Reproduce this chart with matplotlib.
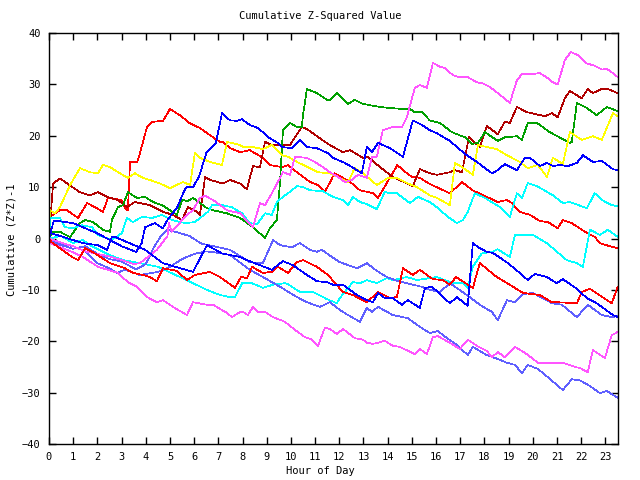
import matplotlib
matplotlib.use("Agg")
import matplotlib.pyplot as plt

# each series: hours, values
red_top_h = [0, 0.04, 0.45, 0.74, 1.2, 1.57, 1.9, 2.23, 2.44, 3.0, 3.14, 3.26, 3.35, 3.64, 3.76, 4.05, 4.26, 4.71, 5.0, 5.41, 5.83, 6.24, 6.78, 7.07, 7.19, 7.48, 7.9, 8.3, 8.84, 9.13, 9.63, 9.88, 10.25, 10.79, 11.12, 11.4, 11.6, 11.8, 12.15, 12.5, 12.85, 13.4, 13.6, 14.4, 14.63, 15.0, 15.33, 15.74, 16.57, 17.07, 17.5, 18.1, 18.55, 18.93, 19.13, 19.46, 19.88, 20.29, 20.62, 21.03, 21.24, 21.6, 22.23, 22.56, 22.77, 23.18, 23.51]
red_top_v = [0, 4.2, 5.5, 5.5, 4.0, 6.9, 6.1, 5.2, 7.9, 7.5, 5.9, 5.5, 14.9, 14.9, 16.6, 21.7, 22.7, 22.9, 25.2, 24.0, 22.4, 21.5, 19.7, 18.8, 18.8, 17.6, 16.8, 17.2, 15.7, 14.3, 13.9, 14.3, 12.9, 11.0, 10.4, 9.1, 10.8, 12.7, 11.8, 10.8, 9.4, 8.8, 7.9, 14.3, 13.3, 12.0, 11.8, 10.6, 8.8, 11.0, 9.4, 8.1, 7.1, 7.5, 6.9, 5.2, 4.6, 3.4, 3.2, 2.0, 3.6, 3.0, 1.1, 0.3, -0.9, -1.5, -1.9]

dark_red_h = [0, 0.17, 0.45, 1.28, 1.69, 2.02, 2.4, 2.85, 3.22, 3.55, 4.17, 4.71, 5.12, 5.5, 5.74, 6.12, 6.24, 6.45, 6.65, 7.19, 7.48, 7.9, 8.18, 8.43, 8.72, 8.93, 9.21, 9.96, 10.45, 10.66, 11.2, 11.6, 12.15, 12.44, 12.98, 13.18, 13.68, 14.21, 15.04, 15.33, 15.74, 16.03, 16.57, 16.78, 17.07, 17.36, 17.81, 18.1, 18.55, 18.84, 19.05, 19.34, 19.75, 20.5, 20.79, 21.03, 21.32, 21.53, 22.02, 22.27, 22.48, 22.85, 23.1, 23.51]
dark_red_v = [0, 10.7, 11.7, 9.0, 8.4, 9.0, 8.1, 7.5, 6.1, 7.1, 6.5, 5.2, 4.6, 3.6, 6.1, 5.2, 4.6, 12.0, 11.4, 10.7, 11.4, 10.7, 9.6, 14.1, 13.9, 18.8, 18.2, 18.2, 21.7, 21.3, 19.5, 18.2, 16.8, 17.2, 15.7, 15.9, 13.9, 12.0, 10.2, 13.5, 12.7, 12.4, 12.9, 13.3, 12.9, 19.7, 17.8, 21.9, 20.3, 22.7, 22.5, 25.6, 24.6, 23.8, 24.4, 23.6, 27.3, 28.7, 27.3, 29.1, 28.3, 29.1, 29.1, 28.3]

green_h = [0, 0.17, 0.45, 0.87, 1.28, 1.49, 1.82, 2.23, 2.52, 2.6, 2.85, 3.06, 3.26, 3.64, 3.97, 4.3, 4.67, 5.0, 5.29, 5.5, 5.74, 5.95, 6.24, 6.53, 6.78, 7.36, 7.9, 8.43, 8.93, 9.13, 9.42, 9.55, 9.67, 9.96, 10.25, 10.45, 10.5, 10.66, 11.07, 11.49, 11.61, 11.9, 12.36, 12.64, 12.98, 13.68, 14.09, 14.63, 14.92, 15.12, 15.41, 15.74, 16.16, 16.65, 17.19, 17.48, 17.73, 18.02, 18.55, 18.84, 19.34, 19.55, 19.79, 20.17, 20.7, 21.53, 21.61, 21.82, 22.23, 22.64, 23.06, 23.51]
green_v = [0, 1.3, 1.3, 0.3, 3.0, 3.6, 3.2, 1.7, 1.3, 3.6, 6.1, 6.5, 9.0, 7.9, 8.1, 7.1, 6.5, 5.5, 4.6, 7.5, 7.3, 7.9, 6.9, 5.9, 5.5, 4.9, 4.0, 2.2, 0.1, 2.0, 3.6, 11.0, 21.1, 22.5, 21.7, 21.7, 24.0, 29.1, 28.3, 27.0, 27.0, 28.3, 26.2, 27.0, 26.2, 25.6, 25.4, 25.2, 25.2, 24.6, 24.6, 23.0, 22.5, 20.7, 19.7, 18.4, 18.6, 20.7, 19.0, 19.7, 19.9, 19.2, 22.5, 22.5, 20.7, 18.6, 18.8, 26.4, 25.4, 24.0, 25.6, 24.8]

yellow_h = [0, 0.04, 0.25, 0.45, 0.87, 1.28, 1.69, 2.02, 2.23, 2.52, 2.93, 3.26, 3.55, 3.88, 4.17, 4.59, 5.0, 5.54, 5.83, 6.03, 6.24, 6.65, 7.15, 7.36, 7.9, 8.02, 8.43, 8.84, 9.21, 9.63, 9.88, 10.25, 10.79, 11.12, 11.61, 12.02, 12.36, 12.64, 12.98, 13.55, 14.01, 14.38, 14.79, 15.21, 15.74, 16.03, 16.57, 16.78, 17.07, 17.52, 17.73, 18.1, 18.51, 18.93, 19.46, 19.79, 20.21, 20.58, 20.83, 21.24, 21.53, 22.02, 22.48, 22.85, 23.31, 23.51]
yellow_v = [0, 5.5, 4.9, 6.1, 10.4, 13.7, 12.9, 12.7, 14.3, 13.9, 12.7, 11.8, 12.7, 11.8, 11.4, 10.7, 9.8, 11.0, 10.4, 16.6, 15.7, 14.9, 14.3, 18.8, 18.2, 17.8, 17.8, 17.4, 18.2, 16.2, 15.9, 14.9, 13.7, 12.9, 12.7, 11.8, 11.0, 13.7, 12.7, 10.4, 11.8, 11.8, 10.8, 10.0, 8.4, 7.9, 6.5, 14.7, 13.9, 12.4, 18.2, 17.8, 17.4, 16.2, 14.9, 13.7, 14.3, 12.0, 15.7, 14.5, 20.7, 19.2, 19.9, 19.2, 24.4, 23.8]

magenta_top_h = [0, 0.5, 1.0, 1.5, 2.0, 2.5, 3.0, 3.5, 3.76, 4.46, 4.9, 4.95, 5.07, 5.7, 5.95, 6.24, 6.45, 6.78, 7.36, 7.9, 8.43, 8.72, 8.93, 9.21, 9.46, 9.67, 9.96, 10.17, 10.66, 10.99, 11.32, 11.61, 11.94, 12.23, 12.52, 12.77, 13.14, 13.35, 13.55, 13.8, 14.21, 14.59, 14.79, 15.12, 15.33, 15.62, 15.87, 16.16, 16.36, 16.69, 16.98, 17.31, 17.69, 17.93, 18.22, 18.55, 19.05, 19.34, 19.55, 20.0, 20.29, 20.62, 20.83, 21.03, 21.32, 21.57, 21.86, 22.23, 22.56, 22.85, 23.06, 23.31, 23.51]
magenta_top_v = [0, -0.8, -1.5, -2.5, -3.0, -3.5, -4.2, -5.0, -4.8, -2.2, 0.5, 3.0, 1.3, 4.6, 5.5, 7.9, 8.3, 7.5, 5.5, 4.9, 2.2, 6.9, 6.5, 8.8, 11.0, 12.9, 12.4, 15.9, 15.7, 14.9, 13.9, 12.9, 12.0, 11.0, 11.4, 12.4, 11.8, 15.9, 15.9, 21.1, 21.7, 21.7, 23.6, 29.3, 29.9, 29.3, 34.2, 33.4, 33.2, 31.8, 31.4, 31.4, 30.4, 30.2, 29.5, 28.3, 26.4, 30.8, 32.0, 32.0, 32.2, 31.2, 30.4, 30.0, 34.7, 36.3, 35.7, 34.1, 33.6, 32.9, 33.0, 32.2, 31.4]

magenta_low_h = [0, 0.04, 0.95, 1.4, 2.02, 2.85, 3.26, 3.64, 4.05, 4.46, 4.71, 5.12, 5.7, 5.95, 6.53, 6.78, 7.36, 7.56, 7.9, 8.02, 8.22, 8.43, 8.64, 8.93, 9.26, 9.75, 10.17, 10.58, 10.87, 11.12, 11.4, 11.61, 11.9, 12.15, 12.64, 12.98, 13.14, 13.39, 13.6, 13.88, 14.21, 14.5, 15.12, 15.33, 15.62, 15.87, 16.07, 16.57, 16.98, 17.31, 17.69, 18.1, 18.31, 18.55, 18.84, 19.26, 19.75, 20.21, 20.58, 21.24, 21.74, 21.94, 22.27, 22.48, 22.98, 23.26, 23.51]
magenta_low_v = [0, -0.9, -2.6, -3.6, -5.5, -6.7, -8.5, -9.4, -11.4, -12.4, -12.0, -13.3, -14.9, -12.4, -12.9, -12.9, -14.5, -15.3, -14.3, -14.3, -14.9, -13.3, -14.3, -14.3, -15.3, -16.2, -17.8, -19.2, -19.7, -20.9, -17.4, -17.6, -18.6, -17.6, -19.4, -19.7, -20.3, -20.5, -20.3, -19.9, -20.9, -21.1, -22.5, -21.5, -22.5, -19.2, -19.0, -20.3, -21.5, -19.7, -20.9, -21.9, -23.1, -22.1, -23.1, -21.1, -22.5, -24.2, -24.2, -24.2, -25.0, -25.2, -26.0, -21.7, -23.3, -18.8, -18.2]

blue_top_h = [0, 0.2, 1.0, 1.5, 2.0, 2.6, 3.0, 3.6, 3.83, 3.97, 4.38, 4.7, 4.9, 5.3, 5.6, 5.7, 5.95, 6.2, 6.5, 6.8, 6.9, 7.15, 7.48, 7.77, 7.98, 8.3, 8.64, 9.13, 9.46, 9.63, 10.04, 10.37, 10.66, 11.07, 11.53, 11.74, 12.23, 12.52, 12.93, 13.14, 13.35, 13.6, 14.09, 14.63, 15.04, 15.41, 15.74, 16.03, 16.57, 16.86, 17.27, 17.69, 18.02, 18.31, 18.55, 18.84, 19.34, 19.67, 19.88, 20.29, 20.58, 20.83, 21.12, 21.45, 21.82, 22.07, 22.48, 22.85, 23.31, 23.51]
blue_top_v = [0, 3.5, 3.0, 2.0, 1.0, -0.5, -1.5, -2.6, -0.9, 2.2, 3.0, 2.0, 3.6, 6.1, 9.4, 10.0, 10.0, 12.0, 16.6, 18.2, 18.6, 24.4, 23.0, 22.9, 23.2, 22.1, 21.5, 19.5, 18.6, 17.8, 17.6, 19.2, 17.8, 17.6, 16.6, 15.7, 14.7, 13.9, 12.7, 17.8, 16.8, 18.6, 17.6, 15.9, 23.0, 22.1, 21.1, 20.5, 19.0, 17.8, 16.2, 14.9, 13.7, 12.7, 13.3, 14.5, 13.3, 15.7, 15.7, 14.1, 14.7, 14.1, 14.3, 14.1, 14.7, 16.2, 14.9, 15.1, 13.5, 13.3]

blue_low_h = [0, 0.04, 1.4, 2.02, 2.4, 2.6, 2.73, 3.97, 4.71, 5.95, 6.53, 7.15, 7.9, 8.18, 8.72, 9.21, 9.67, 10.08, 10.66, 11.07, 11.49, 11.74, 12.15, 12.73, 13.14, 13.39, 13.6, 13.88, 14.21, 14.59, 14.83, 15.33, 15.54, 15.83, 16.16, 16.57, 16.86, 17.31, 17.52, 17.81, 18.1, 18.35, 18.97, 19.46, 19.79, 20.08, 20.58, 20.99, 21.24, 21.82, 22.23, 22.64, 23.31, 23.51]
blue_low_v = [0, 1.1, -0.9, -1.3, -2.2, 0.3, 0.3, -2.2, -4.8, -6.5, -1.3, -2.9, -3.6, -4.2, -5.2, -6.1, -4.4, -5.2, -7.1, -8.3, -8.5, -9.0, -9.0, -11.0, -12.0, -12.4, -10.6, -11.6, -11.6, -12.9, -12.0, -13.5, -9.6, -9.4, -10.8, -12.6, -11.4, -13.1, -0.9, -1.9, -2.6, -2.8, -4.8, -6.7, -8.1, -6.9, -7.5, -8.7, -7.9, -9.8, -11.6, -12.6, -14.9, -15.3]

cyan_top_h = [0, 0.05, 0.45, 0.66, 0.99, 1.36, 1.78, 2.02, 2.6, 3.02, 3.22, 3.47, 3.84, 4.26, 4.67, 5.08, 5.62, 6.03, 6.57, 6.74, 7.15, 7.56, 7.98, 8.3, 8.6, 8.93, 9.21, 9.42, 9.67, 9.96, 10.25, 10.5, 10.79, 11.32, 11.74, 12.15, 12.36, 12.56, 12.85, 13.14, 13.55, 13.88, 14.09, 14.38, 14.92, 15.25, 15.74, 16.03, 16.49, 16.86, 17.11, 17.31, 17.6, 18.02, 18.64, 19.05, 19.34, 19.55, 19.79, 20.17, 20.83, 21.24, 21.53, 22.23, 22.56, 22.85, 23.26, 23.51]
cyan_top_v = [0, 4.0, 4.0, 2.2, 2.0, 2.6, 2.2, 0.7, -0.3, 1.1, 4.0, 3.2, 4.2, 4.0, 4.6, 3.6, 3.0, 3.2, 5.2, 6.5, 6.5, 6.1, 4.9, 3.0, 2.8, 4.9, 4.6, 7.1, 8.1, 9.1, 10.2, 10.0, 9.4, 9.2, 8.1, 7.5, 6.5, 8.1, 7.1, 6.7, 5.7, 9.1, 8.8, 8.8, 6.9, 8.1, 7.1, 6.1, 4.2, 3.0, 3.6, 5.2, 8.8, 7.9, 6.1, 4.2, 8.8, 7.9, 10.8, 10.2, 8.4, 6.9, 7.1, 5.9, 8.8, 7.5, 6.5, 6.3]

cyan_low_h = [0, 0.5, 1.0, 1.4, 1.7, 2.5, 3.06, 3.76, 4.5, 5.41, 5.95, 6.53, 7.07, 7.48, 7.69, 7.98, 8.39, 8.84, 9.26, 9.75, 9.88, 10.37, 10.91, 11.49, 11.9, 12.02, 12.56, 12.85, 13.14, 13.55, 13.97, 14.21, 14.79, 15.21, 15.74, 16.03, 16.69, 17.11, 17.31, 17.52, 17.89, 18.31, 18.55, 19.05, 19.26, 20.0, 20.58, 21.4, 21.82, 22.07, 22.36, 22.77, 23.1, 23.51]
cyan_low_v = [0, 0.5, -0.9, -0.3, -1.3, -3.2, -4.2, -4.8, -5.5, -7.5, -8.7, -10.0, -11.0, -11.4, -11.4, -8.7, -8.7, -9.6, -9.0, -8.7, -8.9, -10.4, -10.4, -11.8, -12.6, -11.6, -8.5, -8.7, -8.1, -8.7, -7.7, -8.1, -7.5, -8.1, -7.7, -7.5, -8.7, -8.7, -9.6, -5.5, -2.9, -2.6, -2.1, -3.6, 0.7, 0.7, -0.9, -4.2, -4.8, -5.5, 1.7, 0.7, 1.7, 0.3]

red_low_h = [0, 0.1, 0.95, 1.2, 1.49, 1.9, 2.52, 3.14, 3.47, 3.88, 4.17, 4.46, 4.71, 5.29, 5.7, 6.03, 6.65, 7.07, 7.69, 7.95, 8.18, 8.39, 8.84, 9.21, 9.46, 9.88, 10.25, 10.5, 11.07, 11.53, 12.15, 12.56, 13.14, 13.6, 14.09, 14.38, 14.63, 15.04, 15.33, 15.74, 15.87, 16.28, 16.57, 16.82, 17.52, 17.81, 18.51, 19.05, 19.59, 20.29, 20.79, 20.99, 21.82, 22.02, 22.36, 23.26, 23.51]
red_low_v = [0, -0.7, -3.6, -4.2, -1.9, -2.9, -4.8, -5.8, -6.7, -7.1, -7.5, -8.3, -5.8, -6.3, -8.1, -7.1, -6.5, -7.5, -9.6, -7.4, -7.8, -5.5, -6.7, -6.5, -5.5, -6.7, -4.6, -4.2, -5.5, -7.1, -10.4, -11.0, -12.4, -10.4, -11.6, -11.4, -5.8, -7.1, -6.1, -7.5, -7.9, -8.1, -9.0, -7.5, -9.6, -4.8, -7.5, -9.0, -10.6, -11.0, -12.4, -12.4, -12.6, -10.4, -9.8, -12.6, -9.4]

slate_top_h = [0, 0.3, 1.0, 1.5, 2.0, 2.5, 3.0, 3.6, 4.0, 4.3, 4.6, 4.9, 5.3, 5.8, 6.3, 6.8, 7.48, 8.3, 8.84, 9.26, 9.55, 10.04, 10.37, 10.79, 11.07, 11.28, 11.69, 12.02, 12.73, 13.14, 13.55, 13.97, 14.3, 14.79, 15.41, 15.74, 16.16, 16.57, 17.27, 17.81, 18.31, 18.55, 18.93, 19.26, 19.59, 20.0, 20.41, 20.79, 21.2, 21.82, 22.27, 22.56, 22.85, 23.26, 23.51]
slate_top_v = [0, -1.0, -2.0, -1.5, -3.0, -4.0, -4.5, -6.0, -5.0, -2.0, 0.3, 1.7, 1.2, 0.5, -1.0, -1.5, -2.2, -4.6, -4.8, -0.3, -1.3, -1.7, -0.9, -2.2, -2.6, -2.2, -3.6, -4.6, -5.8, -4.8, -6.3, -7.5, -8.1, -8.7, -9.4, -10.0, -10.4, -8.7, -11.0, -12.9, -14.3, -15.9, -12.0, -12.4, -10.8, -10.6, -11.6, -12.6, -12.9, -15.3, -12.9, -13.9, -14.9, -15.3, -15.1]

slate_low_h = [0, 0.5, 1.0, 1.5, 2.0, 2.5, 2.8, 3.14, 3.76, 4.5, 5.0, 5.5, 6.0, 6.5, 7.0, 7.48, 8.3, 8.84, 9.55, 10.25, 10.66, 11.2, 11.61, 12.02, 12.36, 12.85, 13.14, 13.35, 13.6, 14.21, 14.83, 15.33, 15.74, 16.07, 16.45, 16.86, 17.31, 17.52, 18.1, 18.64, 18.93, 19.26, 19.55, 19.79, 20.21, 20.62, 21.24, 21.61, 21.94, 22.36, 22.77, 23.06, 23.51]
slate_low_v = [0, -1.0, -1.5, -2.5, -4.8, -5.8, -6.7, -6.1, -7.1, -6.5, -5.5, -4.0, -3.0, -2.5, -2.8, -3.2, -6.1, -7.5, -9.4, -11.4, -12.4, -13.3, -12.4, -13.9, -14.9, -16.2, -13.5, -14.3, -13.3, -14.9, -15.5, -17.2, -18.4, -18.0, -19.4, -20.7, -22.7, -21.1, -22.7, -23.6, -24.2, -24.6, -26.2, -24.6, -25.4, -27.0, -29.5, -27.4, -27.6, -28.7, -30.1, -29.7, -31.0]

series = [
    (red_top_h, red_top_v, "#ff0000"),
    (dark_red_h, dark_red_v, "#b00000"),
    (green_h, green_v, "#00a000"),
    (yellow_h, yellow_v, "#ffff00"),
    (cyan_top_h, cyan_top_v, "#00ffff"),
    (cyan_low_h, cyan_low_v, "#00ffff"),
    (slate_top_h, slate_top_v, "#5f5fff"),
    (slate_low_h, slate_low_v, "#5f5fff"),
    (magenta_low_h, magenta_low_v, "#ff55ff"),
    (magenta_top_h, magenta_top_v, "#ff55ff"),
    (red_low_h, red_low_v, "#ff0000"),
    (blue_low_h, blue_low_v, "#0000ff"),
    (blue_top_h, blue_top_v, "#0000ff"),
]

font = "DejaVu Sans Mono"
fig = plt.figure(figsize=(6.4, 4.8), dpi=100)
ax = fig.add_axes([49 / 640, 36 / 480, 569 / 640, 411 / 480])

for h, v, c in series:
    ax.plot(h, v, color=c, lw=0.5, antialiased=False)

ax.set_xlim(0, 23.52)
ax.set_ylim(-40, 40)
ax.set_xticks(range(0, 24))
ax.set_yticks(range(-40, 41, 10))
ax.tick_params(direction="in", length=5, width=1, top=True, right=True,
               labelsize=7.5, pad=6)
for lab in ax.get_xticklabels() + ax.get_yticklabels():
    lab.set_family(font)
for s in ax.spines.values():
    s.set_linewidth(1.0)

fig.text(0.5, 1 - 16 / 480, "Cumulative Z-Squared Value", ha="center", va="center",
         family=font, fontsize=7.5)
fig.text(0.5, 1 - 471 / 480, "Hour of Day", ha="center", va="center",
         family=font, fontsize=7.5)
fig.text(12 / 640, 0.5, "Cumulative (Z*Z)-1", ha="center", va="center",
         rotation=90, family=font, fontsize=7.5)

fig.savefig("out.png", dpi=100)
